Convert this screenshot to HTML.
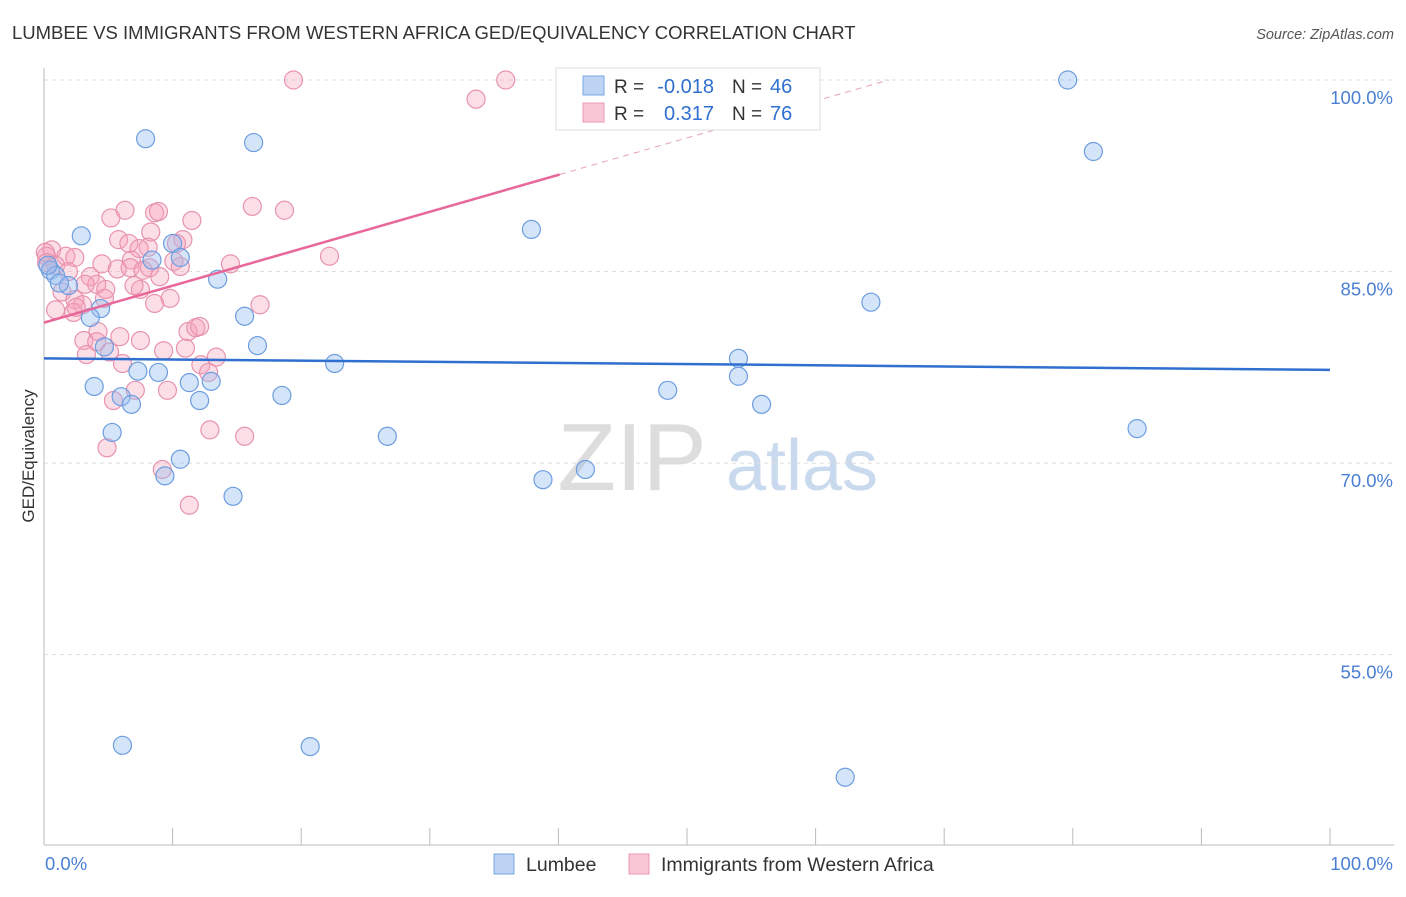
<!DOCTYPE html>
<html><head><meta charset="utf-8"><style>
body{margin:0;background:#fff;font-family:"Liberation Sans",sans-serif}
svg text{font-family:"Liberation Sans",sans-serif}
</style></head><body>
<svg id="c" width="1406" height="892" xmlns="http://www.w3.org/2000/svg">
<text x="12" y="39" font-size="18.5" fill="#333">LUMBEE VS IMMIGRANTS FROM WESTERN AFRICA GED/EQUIVALENCY CORRELATION CHART</text>
<text x="1394" y="39" font-size="14.5" fill="#555" text-anchor="end" font-style="italic">Source: ZipAtlas.com</text>
<text x="0" y="0" transform="translate(34,456) rotate(-90)" font-size="17" fill="#333" text-anchor="middle">GED/Equivalency</text>
<g><text x="632" y="490" font-size="96" fill="#ddd" font-family="Liberation Serif" text-anchor="middle">ZIP</text><text x="802" y="490" font-size="72" fill="#c9d9ee" text-anchor="middle">atlas</text></g>
<g id="grid"></g><g id="marks"></g>
<g>
<rect x="556" y="68" width="264" height="62" fill="#fff" stroke="#ddd"/>
<rect x="583" y="76" width="21" height="19" fill="#bcd3f3" stroke="#7aa7e0"/>
<rect x="583" y="103" width="21" height="19" fill="#f9c6d5" stroke="#eb9ab3"/>
<text x="614" y="93" font-size="19" fill="#333">R =</text>
<text x="714" y="93" font-size="20" fill="#2f6fd0" text-anchor="end">-0.018</text>
<text x="732" y="93" font-size="19" fill="#333">N =</text>
<text x="770" y="93" font-size="20" fill="#2f6fd0">46</text>
<text x="614" y="120" font-size="19" fill="#333">R =</text>
<text x="714" y="120" font-size="20" fill="#2f6fd0" text-anchor="end">0.317</text>
<text x="732" y="120" font-size="19" fill="#333">N =</text>
<text x="770" y="120" font-size="20" fill="#2f6fd0">76</text>
</g>
<g>
<rect x="494" y="854" width="20" height="20" fill="#bcd3f3" stroke="#7aa7e0"/>
<text x="526" y="871" font-size="19.5" fill="#333">Lumbee</text>
<rect x="629" y="854" width="20" height="20" fill="#f9c6d5" stroke="#eb9ab3"/>
<text x="661" y="871" font-size="19.5" fill="#333">Immigrants from Western Africa</text>
</g>
</svg>
<script>
const xTickLabels=["0.0%","100.0%"];
const yTicks=[100,85,70,55];
const blueX=[79.6,81.6,7.9,16.3,37.9,2.9,10.0,10.6,13.5,64.3,8.4,0.5,0.9,1.9,4.4,3.6,15.6,16.6,4.7,22.6,54.0,54.0,7.3,8.9,11.3,13.0,3.9,18.5,48.5,12.1,6.0,6.8,55.8,5.3,26.7,85.0,10.6,9.4,42.1,38.8,14.7,6.1,20.7,62.3,0.3,1.2];
const blueY=[100,94.4,95.4,95.1,88.3,87.8,87.2,86.1,84.4,82.6,85.9,85.1,84.7,83.9,82.1,81.4,81.5,79.2,79.1,77.8,78.2,76.8,77.2,77.1,76.3,76.4,76.0,75.3,75.7,74.9,75.2,74.6,74.6,72.4,72.1,72.7,70.3,69.0,69.5,68.7,67.4,47.9,47.8,45.4,85.5,84.1];
const pinkX=[19.4,35.9,33.6,16.2,18.7,6.3,8.6,8.9,5.2,11.5,8.3,5.8,6.6,10.8,10.3,8.1,7.4,22.2,0.6,0.2,1.7,2.4,4.5,6.8,14.5,5.7,6.7,8.2,9.0,10.1,7.7,3.6,4.1,1.4,2.4,3.0,7.5,9.8,8.6,16.8,2.3,4.2,7.5,3.1,4.1,5.1,9.3,11.0,11.2,11.8,12.1,3.3,6.1,12.2,13.4,12.8,7.1,9.6,5.4,12.9,15.6,4.9,9.2,11.3,0.1,0.9,1.9,3.2,4.7,0.9,2.5,5.9,0.2,4.8,7.0,10.6];
const pinkY=[100,100,98.5,90.1,89.8,89.8,89.6,89.7,89.2,89.0,88.1,87.5,87.2,87.5,87.2,86.9,86.8,86.2,86.7,86.2,86.2,86.1,85.6,85.9,85.6,85.2,85.3,85.3,84.6,85.8,85.1,84.6,84.0,83.4,82.8,82.4,83.6,82.9,82.5,82.4,81.8,80.3,79.6,79.6,79.5,78.7,78.8,79.0,80.3,80.6,80.7,78.5,77.8,77.7,78.3,77.1,75.7,75.7,74.9,72.6,72.1,71.2,69.5,66.7,86.5,85.5,85.0,84.0,82.9,82.0,82.2,79.9,85.7,83.6,83.9,85.4];
const blueTrend=[78.2,77.3];
const pinkTrend=[81.0,92.6];
const X0=44,X1=1330,YTOP=80;
function xs(v){return X0+(X1-X0)*v/100;}
function ys(v){return YTOP+(100-v)*12.77;}
const NS="http://www.w3.org/2000/svg";
const grid=document.getElementById('grid'),marks=document.getElementById('marks');
function mk(tag,attrs,parent){const e=document.createElementNS(NS,tag);for(const k in attrs)e.setAttribute(k,attrs[k]);parent.appendChild(e);return e;}
yTicks.forEach(t=>{
 const l=mk('line',{x1:X0,x2:1394,y1:ys(t),y2:ys(t),stroke:'#ddd','stroke-dasharray':'4,4'},grid);
 
 
 const tx=mk('text',{x:1393,y:ys(t)+24,'font-size':18.5,fill:'#4a7fd4','text-anchor':'end'},grid);
 tx.textContent=t.toFixed(1)+'%';
 
 
});
const ax=mk('line',{x1:X0,x2:1394,y1:845,y2:845,stroke:'#bbb'},grid);


const ay=mk('line',{x1:X0,x2:X0,y1:68,y2:845,stroke:'#bbb'},grid);


for(let i=0;i<=10;i++){const t=mk('line',{x1:xs(i*10),x2:xs(i*10),y1:828,y2:845,stroke:'#bbb'},grid);
 
 }
const xl0=mk('text',{x:45,y:870,'font-size':18.5,fill:'#4a7fd4'},grid);xl0.textContent=xTickLabels[0];


const xl1=mk('text',{x:1393,y:870,'font-size':18.5,fill:'#4a7fd4','text-anchor':'end'},grid);xl1.textContent=xTickLabels[1];


pinkX.forEach((x,i)=>{const c=mk('circle',{cx:xs(x),cy:ys(pinkY[i]),r:9,fill:'rgba(245,160,185,0.35)',stroke:'#e893ad','stroke-width':1.2},marks);
 
 });
blueX.forEach((x,i)=>{const c=mk('circle',{cx:xs(x),cy:ys(blueY[i]),r:9,fill:'rgba(150,190,240,0.4)',stroke:'#6c9de0','stroke-width':1.2},marks);
 
 });
const bl=mk('line',{x1:xs(0),y1:ys(blueTrend[0]),x2:xs(100),y2:ys(blueTrend[1]),stroke:'#2f6fd0','stroke-width':2.5},marks);


const slope=(pinkTrend[1]-pinkTrend[0])/40.1;
const pl=mk('line',{x1:xs(0),y1:ys(pinkTrend[0]),x2:xs(40.1),y2:ys(pinkTrend[1]),stroke:'#e8689a','stroke-width':2.5},marks);


const xEnd=(100-pinkTrend[0])/slope;
const pd=mk('line',{x1:xs(40.1),y1:ys(pinkTrend[1]),x2:xs(xEnd),y2:ys(100),stroke:'#e8a0bb','stroke-width':1,'stroke-dasharray':'6,5'},marks);


</script>
</body></html>
